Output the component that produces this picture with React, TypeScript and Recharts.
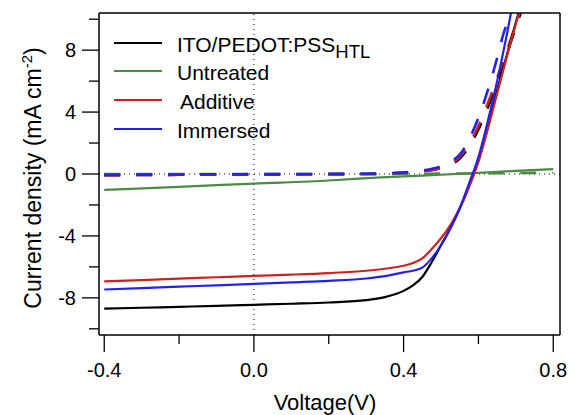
import React from 'react';
import { LineChart, Line, XAxis, YAxis, ReferenceLine, Legend } from 'recharts';

const FONT = '"Liberation Sans", Arial, Helvetica, sans-serif';

// Axis ticks
const xTicks = [-0.4, -0.2, 0, 0.2, 0.4, 0.6, 0.8];
const xMajor = [-0.4, 0, 0.4, 0.8];
const yTicks = [-10, -8, -6, -4, -2, 0, 2, 4, 6, 8, 10];
const yMajor = [-8, -4, 0, 4, 8];
const xDomain = [-0.414, 0.818];
const yDomain = [-10.4, 10.4];

// Series names / colours
const seriesNames = ['ITO/PEDOT:PSS', 'Untreated', 'Additive', 'Immersed'];
const seriesColors = ['#000000', '#4b8b45', '#cc2222', '#2222ee'];

// Light (solid) J-V curves
const vLight = [-0.4, -0.3, -0.2, -0.1, 0, 0.1, 0.2, 0.3, 0.35, 0.4, 0.425, 0.45, 0.475, 0.5, 0.525, 0.55, 0.575, 0.6, 0.625, 0.65, 0.675, 0.7, 0.72];
const jItoLight = [-8.7, -8.64, -8.58, -8.52, -8.45, -8.38, -8.3, -8.15, -7.95, -7.55, -7.2, -6.65, -5.7, -4.6, -3.5, -2.25, -0.8, 0.85, 3.0, 5.4, 7.6, 9.8, 11.5];
const jAddLight = [-6.93, -6.85, -6.76, -6.67, -6.58, -6.5, -6.4, -6.25, -6.12, -5.93, -5.75, -5.45, -4.85, -4.15, -3.3, -2.2, -0.85, 0.8, 2.9, 5.2, 7.5, 9.7, 11.3];
const jImmLight = [-7.46, -7.37, -7.28, -7.19, -7.1, -7.0, -6.9, -6.75, -6.6, -6.35, -6.25, -6.05, -5.45, -4.6, -3.5, -2.2, -0.6, 1.1, 3.4, 6.0, 8.9, 12.0, 14.0];

const vUntLight = [-0.4, -0.2, 0, 0.2, 0.34, 0.4, 0.5, 0.6, 0.7, 0.8];
const jUntLight = [-1.03, -0.83, -0.62, -0.42, -0.22, -0.15, -0.05, 0.07, 0.2, 0.32];

// Dark (dashed) J-V curves
const vItoDark = [-0.4, -0.2, 0, 0.2, 0.3, 0.4, 0.45, 0.5, 0.55, 0.59, 0.635, 0.66, 0.685, 0.71, 0.73];
const jItoDark = [-0.08, -0.05, -0.03, -0.01, 0, 0.08, 0.18, 0.4, 1.0, 2.4, 4.9, 6.6, 8.4, 10.2, 11.6];
const vAddDark = [-0.4, -0.2, 0, 0.2, 0.3, 0.4, 0.45, 0.5, 0.55, 0.59, 0.635, 0.66, 0.685, 0.71, 0.73];
const jAddDark = [-0.08, -0.05, -0.03, -0.01, 0, 0.08, 0.18, 0.4, 1.1, 2.6, 5.2, 6.9, 8.6, 10.4, 11.8];
const vImmDark = [-0.4, -0.2, 0, 0.2, 0.3, 0.4, 0.45, 0.5, 0.53, 0.55, 0.583, 0.625, 0.649, 0.665, 0.686, 0.7];
const jImmDark = [-0.05, -0.03, -0.01, 0, 0.02, 0.1, 0.22, 0.5, 0.85, 1.25, 2.65, 5.4, 7.4, 8.9, 10.4, 11.5];
const vUntDark = [-0.4, -0.2, 0, 0.2, 0.4, 0.6, 0.8];
const jUntDark = [0.0, 0.0, 0.0, 0.0, 0.01, 0.04, 0.08];

const toPts = (v: number[], j: number[]) => v.map((x, i) => ({ v: x, j: j[i] }));

const darkSeries = [
  toPts(vItoDark, jItoDark),
  toPts(vUntDark, jUntDark),
  toPts(vAddDark, jAddDark),
  toPts(vImmDark, jImmDark),
];
const lightSeries = [
  toPts(vLight, jItoLight),
  toPts(vUntLight, jUntLight),
  toPts(vLight, jAddLight),
  toPts(vLight, jImmLight),
];

const isMajor = (list: number[], v: number) => list.some((m) => Math.abs(m - v) < 1e-9);

const YTick = (props: any) => {
  const { x, y, payload } = props;
  const major = isMajor(yMajor, payload.value);
  return (
    <g>
      <line x1={x} x2={x - (major ? 17 : 10)} y1={y} y2={y} stroke="#000" strokeWidth={1.3} />
      {major && (
        <text x={x - 23} y={y} dy="0.36em" textAnchor="end" fontSize={20} fontFamily={FONT} fill="#000">
          {String(payload.value)}
        </text>
      )}
    </g>
  );
};

const XTick = (props: any) => {
  const { x, y, payload } = props;
  const major = isMajor(xMajor, payload.value);
  return (
    <g>
      <line x1={x} x2={x} y1={y} y2={y + (major ? 17 : 9)} stroke="#000" strokeWidth={1.3} />
      {major && (
        <text x={x} y={y + 42} textAnchor="middle" fontSize={20} fontFamily={FONT} fill="#000">
          {Number(payload.value).toFixed(1)}
        </text>
      )}
    </g>
  );
};

const YTitle = () => (
  <text transform="translate(41, 178) rotate(-90)" textAnchor="middle" fontSize={23} fontFamily={FONT} fill="#000">
    Current density (mA cm
    <tspan dy={-9} fontSize={15}>-2</tspan>
    <tspan dy={9}>)</tspan>
  </text>
);

const XTitle = () => (
  <text x={325} y={410} textAnchor="middle" fontSize={22} fontFamily={FONT} fill="#000">
    Voltage(V)
  </text>
);

const LegendBox = () => {
  const rows = [23, 51, 80, 109];
  return (
    <svg width={300} height={125} style={{ display: 'block' }}>
      {seriesNames.map((name, i) => (
        <g key={name}>
          <line x1={14} x2={62} y1={rows[i]} y2={rows[i]} stroke={seriesColors[i]} strokeWidth={2.2} />
          <text x={i === 2 ? 80 : 77} y={rows[i] + 9} fontSize={21} fontFamily={FONT} fill="#000">
            {name}
            {i === 0 && (
              <tspan dy={6} fontSize={18.5}>HTL</tspan>
            )}
          </text>
        </g>
      ))}
    </svg>
  );
};

export default function App() {
  const axisLine = { stroke: '#000', strokeWidth: 1.5 };
  return (
    <div style={{ position: 'absolute', left: 0, top: 0, width: 572, height: 415, background: '#fff' }}>
      <LineChart width={572} height={415} margin={{ top: 12, right: 11, bottom: 40, left: 39 }}>
        <XAxis
          dataKey="v"
          type="number"
          domain={xDomain}
          ticks={xTicks}
          interval={0}
          allowDataOverflow
          tickLine={false}
          tickSize={0}
          tickMargin={0}
          height={40}
          axisLine={axisLine}
          tick={(p: any) => <XTick {...p} />}
          label={<XTitle />}
        />
        <XAxis
          xAxisId="t"
          orientation="top"
          type="number"
          domain={xDomain}
          allowDataOverflow
          tick={false}
          tickLine={false}
          height={1}
          axisLine={axisLine}
        />
        <YAxis
          type="number"
          domain={yDomain}
          ticks={yTicks}
          interval={0}
          allowDataOverflow
          tickLine={false}
          tickSize={0}
          tickMargin={0}
          width={60}
          axisLine={axisLine}
          tick={(p: any) => <YTick {...p} />}
          label={<YTitle />}
        />
        <YAxis
          yAxisId="r"
          orientation="right"
          type="number"
          domain={yDomain}
          allowDataOverflow
          tick={false}
          tickLine={false}
          width={1}
          axisLine={axisLine}
        />
        <ReferenceLine x={0} stroke="#000" strokeWidth={1} strokeDasharray="1 4" />
        <ReferenceLine y={0} stroke="#000" strokeWidth={1} strokeDasharray="1 4" />
        {darkSeries.map((d, i) => (
          <Line
            key={'d' + i}
            data={d}
            dataKey="j"
            type="monotone"
            stroke={seriesColors[i]}
            strokeWidth={2.6}
            strokeDasharray="16 16"
            dot={false}
            activeDot={false}
            isAnimationActive={false}
            legendType="none"
          />
        ))}
        {lightSeries.map((d, i) => (
          <Line
            key={'l' + i}
            data={d}
            dataKey="j"
            name={seriesNames[i]}
            type="monotone"
            stroke={seriesColors[i]}
            strokeWidth={2.2}
            dot={false}
            activeDot={false}
            isAnimationActive={false}
          />
        ))}
        <Legend
          layout="vertical"
          align="center"
          verticalAlign="middle"
          content={() => <LegendBox />}
          wrapperStyle={{ position: 'absolute', left: 100, top: 20, width: 300, height: 125, margin: 0, padding: 0 }}
        />
      </LineChart>
    </div>
  );
}
